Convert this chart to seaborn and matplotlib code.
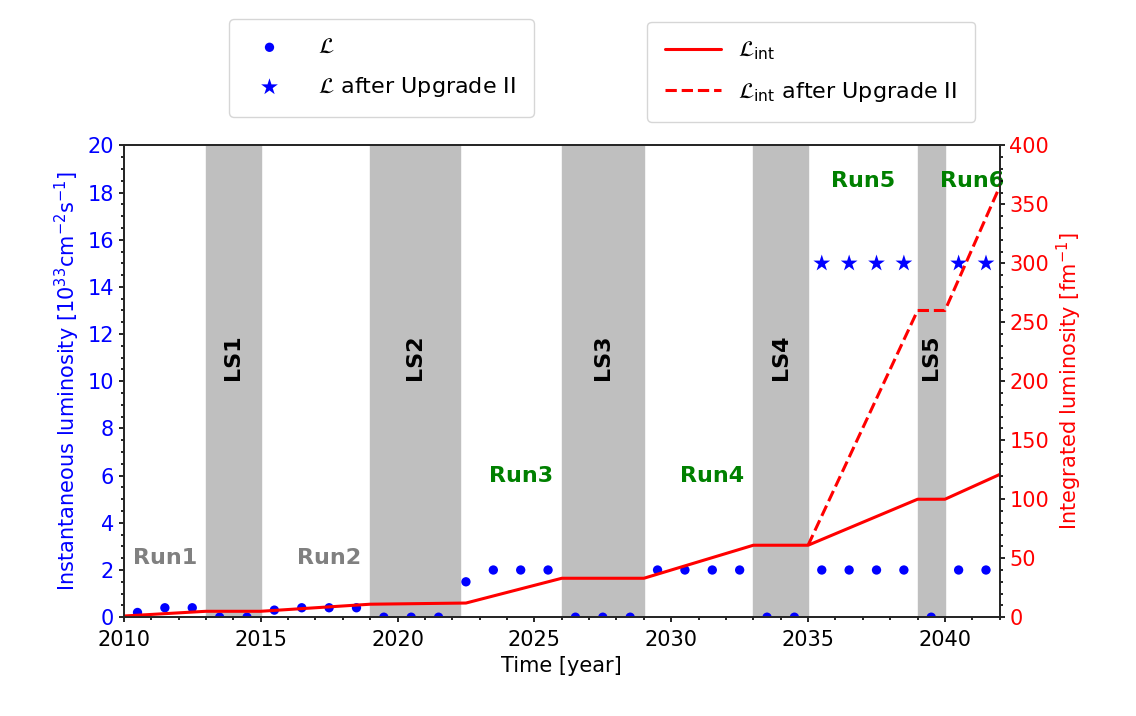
import numpy as np
import matplotlib
matplotlib.use("Agg")
import matplotlib.pyplot as plt
import seaborn as sns

# ── Data ─────────────────────────────────────────────────────────────────────
lumi_year = [2010.5, 2011.5, 2012.5, 2013.5, 2014.5, 2015.5, 2016.5, 2017.5, 2018.5,
             2019.5, 2020.5, 2021.5, 2022.5, 2023.5, 2024.5, 2025.5, 2026.5, 2027.5,
             2028.5, 2029.5, 2030.5, 2031.5, 2032.5, 2033.5, 2034.5, 2035.5, 2036.5,
             2037.5, 2038.5, 2039.5, 2040.5, 2041.5]
lumi_val = [0.2, 0.4, 0.4, 0, 0, 0.3, 0.4, 0.4, 0.4,
            0, 0, 0, 1.5, 2, 2, 2, 0, 0,
            0, 2, 2, 2, 2, 0, 0, 2, 2,
            2, 2, 0, 2, 2]
upg_year = [2035.5, 2036.5, 2037.5, 2038.5, 2040.5, 2041.5]
upg_val = [15, 15, 15, 15, 15, 15]

int_year = [2010, 2013, 2015, 2019, 2022.5, 2026, 2029, 2033, 2035, 2039, 2040, 2042]
int_val = [1, 5, 5, 11, 12, 33, 33, 61, 61, 100, 100, 121]
int_upg_year = [2035, 2039, 2040, 2042]
int_upg_val = [61, 260, 260, 365]

shutdowns = [("LS1", 2013, 2015), ("LS2", 2019, 2022.3), ("LS3", 2026, 2029),
             ("LS4", 2033, 2035), ("LS5", 2039, 2040)]
runs = [("Run1", 2011.5, 2.5, "grey"), ("Run2", 2017.5, 2.5, "grey"),
        ("Run3", 2024.5, 6, "green"), ("Run4", 2031.5, 6, "green"),
        ("Run5", 2037.0, 18.5, "green"), ("Run6", 2041.0, 18.5, "green")]

# ── Plot ─────────────────────────────────────────────────────────────────────
sns.set_style("ticks")
plt.rcParams["font.family"] = ["DejaVu Sans"]
plt.rcParams["font.size"] = 15
plt.rcParams["text.color"] = "black"
plt.rcParams["axes.labelcolor"] = "black"

fig = plt.figure(figsize=(11.36, 7.16), dpi=100)
ax = fig.add_axes([0.109, 0.138, 0.771, 0.659])
ax2 = ax.twinx()

for name, x0, x1 in shutdowns:
    ax.axvspan(x0, x1, color="#bfbfbf", zorder=0)
    ax.text((x0 + x1) / 2, 11, name, rotation=90, ha="center", va="center",
            fontsize=16, fontweight="bold", color="black")
for name, x, y, c in runs:
    ax.text(x, y, name, ha="center", va="center", fontsize=16, fontweight="bold", color=c)

sns.scatterplot(x=lumi_year, y=lumi_val, ax=ax, color="blue", marker="o", s=45,
                edgecolor="none", label=r"$\mathcal{L}$", zorder=3)
sns.scatterplot(x=upg_year, y=upg_val, ax=ax, color="blue", marker="*", s=160,
                edgecolor="none", label=r"$\mathcal{L}$ after Upgrade II", zorder=3)

sns.lineplot(x=int_upg_year, y=int_upg_val, ax=ax2, color="red", lw=2.2,
             linestyle="--", label=r"$\mathcal{L}_{\rm int}$ after Upgrade II")
sns.lineplot(x=int_year, y=int_val, ax=ax2, color="red", lw=2.2,
             label=r"$\mathcal{L}_{\rm int}$")

ax.set_xlim(2010, 2042)
ax.set_ylim(0, 20)
ax2.set_ylim(0, 400)
ax.set_xticks(range(2010, 2045, 5))
ax.set_xticks(np.arange(2010, 2043, 1), minor=True)
ax.set_yticks(range(0, 21, 2))
ax.set_yticks(np.arange(0, 20.1, 0.5), minor=True)
ax2.set_yticks(range(0, 401, 50))
ax2.set_yticks(range(0, 401, 10), minor=True)

ax.set_xlabel("Time [year]")
ax.set_ylabel(r"Instantaneous luminosity [$10^{33}$cm$^{-2}$s$^{-1}$]", color="blue")
ax2.set_ylabel(r"Integrated luminosity [fm$^{-1}$]", color="red")
ax.tick_params(which="both", width=1.2, colors="black")
ax2.tick_params(which="both", width=1.2, colors="black")
ax.tick_params(axis="x", pad=6)
ax.tick_params(axis="y", labelcolor="blue")
ax2.tick_params(axis="y", labelcolor="red")
for a in (ax, ax2):
    for s in a.spines.values():
        s.set_linewidth(1.3)

h1, l1 = ax.get_legend_handles_labels()
ax.legend(h1, l1, loc="center", bbox_to_anchor=(0.336, 0.905), bbox_transform=fig.transFigure,
          fontsize=16, handletextpad=1.2, borderpad=0.8, labelspacing=0.8)
h2, l2 = ax2.get_legend_handles_labels()
ax2.legend(h2[::-1], l2[::-1], loc="center", bbox_to_anchor=(0.714, 0.9), bbox_transform=fig.transFigure,
           fontsize=16, handlelength=2.5, borderpad=0.8, labelspacing=0.8)

fig.savefig("out.png", dpi=100)
